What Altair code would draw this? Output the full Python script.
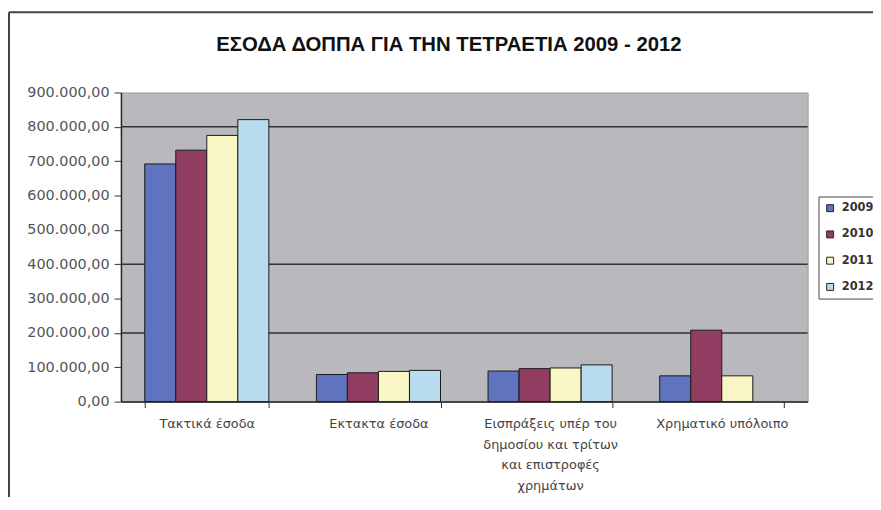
import json
import altair as alt
import pandas as pd

title_text = "ΕΣΟΔΑ ΔΟΠΠΑ ΓΙΑ ΤΗΝ ΤΕΤΡΑΕΤΙΑ 2009 - 2012"

categories = [
    "Τακτικά έσοδα",
    "Εκτακτα έσοδα",
    "Εισπράξεις υπέρ του δημοσίου και τρίτων και επιστροφές χρημάτων",
    "Χρηματικό υπόλοιπο",
]
category_lines = [
    ["Τακτικά έσοδα"],
    ["Εκτακτα έσοδα"],
    ["Εισπράξεις υπέρ του", "δημοσίου και τρίτων", "και επιστροφές", "χρημάτων"],
    ["Χρηματικό υπόλοιπο"],
]

years = ["2009", "2010", "2011", "2012"]
v2009 = [692000, 79000, 89000, 75000]
v2010 = [732000, 84000, 96000, 208000]
v2011 = [775000, 88000, 98000, 75000]
v2012 = [821000, 91000, 107000, None]

colors = ["#5f73bf", "#923e62", "#f8f6c4", "#b8dcee"]
y_ticks = [0, 100000, 200000, 300000, 400000, 500000, 600000, 700000, 800000, 900000]
grid_values = [200000, 400000, 800000]

rows = []
for yr, vals in zip(years, [v2009, v2010, v2011, v2012]):
    for cat, v in zip(categories, vals):
        if v is not None:
            rows.append({"Κατηγορία": cat, "Έτος": yr, "Ποσό": v})
df = pd.DataFrame(rows)

label_map = dict(zip(categories, category_lines))
label_expr = json.dumps(label_map, ensure_ascii=False) + "[datum.value]"

W, H = 693, 312

x_enc = alt.X(
    "Κατηγορία:N",
    sort=categories,
    scale=alt.Scale(paddingInner=0.277, paddingOuter=0.1385),
    axis=alt.Axis(
        title=None,
        labelAngle=0,
        tickBand="extent",
        labelExpr=label_expr,
        labelFont="DejaVu Sans",
        labelFontSize=13,
        labelColor="#444",
        labelLineHeight=21,
        labelPadding=10,
        tickSize=6,
        tickColor="#333",
        domainColor="#222",
        domainWidth=1.5,
    ),
)
y_scale = alt.Scale(domain=[0, 900000], nice=False, zero=True)
y_axis = alt.Axis(
    title=None,
    values=y_ticks,
    format=",.2f",
    grid=False,
    labelOverlap=False,
    labelFont="DejaVu Sans",
    labelFontSize=14.5,
    labelColor="#555",
    labelPadding=5,
    tickSize=7,
    tickColor="#333",
    domainColor="#222",
    domainWidth=1.5,
)

bars = alt.Chart(df).mark_bar(stroke="#1a1a1a", strokeWidth=1).encode(
    x=x_enc,
    xOffset=alt.XOffset("Έτος:N", sort=years, scale=alt.Scale(paddingInner=0, paddingOuter=0)),
    y=alt.Y("Ποσό:Q", scale=y_scale, axis=y_axis),
    color=alt.Color(
        "Έτος:N",
        scale=alt.Scale(domain=years, range=colors),
        legend=alt.Legend(
            title=None,
            orient="none",
            legendX=704,
            legendY=105,
            symbolType="square",
            symbolSize=49,
            symbolStrokeColor="#222",
            symbolStrokeWidth=1,
            labelFont="DejaVu Sans",
            labelFontSize=11.5,
            labelFontWeight="bold",
            labelColor="#333",
            labelOffset=6,
            rowPadding=13.5,
            padding=6,
            strokeColor="#444",
            fillColor="white",
        ),
    ),
)

grid = alt.Chart(pd.DataFrame({"g": grid_values})).mark_rule(
    color="#333", strokeWidth=1.5
).encode(y=alt.Y("g:Q", scale=y_scale, axis=y_axis))

frame_top = alt.Chart(alt.Data(values=[{}])).mark_rule(color="#444", strokeWidth=2).encode(
    x=alt.value(-113), x2=alt.value(W + 70), y=alt.value(-81)
)
frame_left = alt.Chart(alt.Data(values=[{}])).mark_rule(color="#444", strokeWidth=2).encode(
    x=alt.value(-113), y=alt.value(-81), y2=alt.value(H + 110)
)
title = alt.Chart(alt.Data(values=[{}])).mark_text(
    font="Liberation Sans", fontSize=20.5, fontWeight="bold", color="#111", baseline="middle", align="center"
).encode(x=alt.value(331), y=alt.value(-48), text=alt.value(title_text))

chart = (
    alt.layer(grid, bars, frame_top, frame_left, title)
    .properties(
        width=W,
        height=H,
        padding={"left": 114, "top": 83, "right": 66, "bottom": 94},
        autosize=alt.AutoSizeParams(type="none"),
        background="white",
        view=alt.ViewBackground(fill="#b9b9bd", stroke="#999"),
    )
    .configure(
        locale={
            "number": {
                "decimal": ",",
                "thousands": ".",
                "grouping": [3],
                "currency": ["", "€"],
            }
        }
    )
)

chart.save("out.html", embed_options={"renderer": "svg", "actions": False})
